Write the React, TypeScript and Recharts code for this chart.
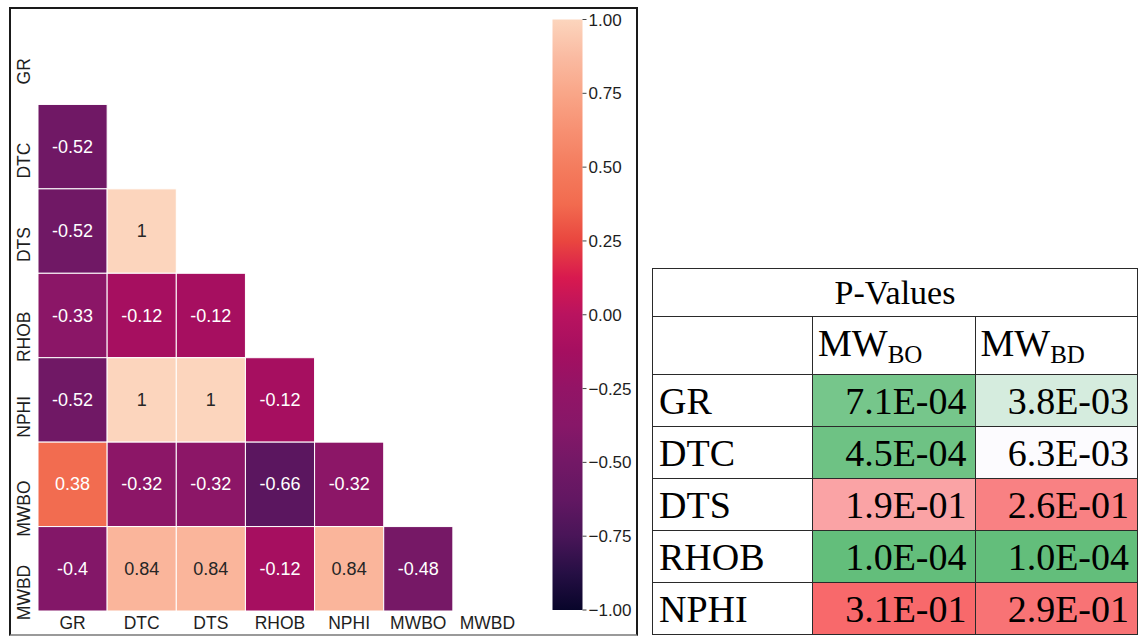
import React from 'react';
import { ScatterChart, Scatter, XAxis, YAxis, BarChart, Bar } from 'recharts';

// ---------------- Data ----------------
const variables = ['GR', 'DTC', 'DTS', 'RHOB', 'NPHI', 'MWBO', 'MWBD'];

// lower-triangle correlation rows (row i has values for columns 0..i-1)
const corrGR: number[] = [];
const corrDTC = [-0.52];
const corrDTS = [-0.52, 1];
const corrRHOB = [-0.33, -0.12, -0.12];
const corrNPHI = [-0.52, 1, 1, -0.12];
const corrMWBO = [0.38, -0.32, -0.32, -0.66, -0.32];
const corrMWBD = [-0.4, 0.84, 0.84, -0.12, 0.84, -0.48];

const colorbarTicks = [-1, -0.75, -0.5, -0.25, 0, 0.25, 0.5, 0.75, 1];

const pTitle = 'P-Values';
const pRowLabels = ['GR', 'DTC', 'DTS', 'RHOB', 'NPHI'];
const pMWBO = [7.1e-4, 4.5e-4, 1.9e-1, 1.0e-4, 3.1e-1];
const pMWBD = [3.8e-3, 6.3e-3, 2.6e-1, 1.0e-4, 2.9e-1];

// ---------------- Helpers ----------------
const corrRows = [corrGR, corrDTC, corrDTS, corrRHOB, corrNPHI, corrMWBO, corrMWBD];
const cells = corrRows.flatMap((row, r) => row.map((v, c) => ({ x: c, y: r, v })));

const SANS = '"Liberation Sans", Arial, sans-serif';
const SERIF = '"Liberation Serif", "Times New Roman", serif';

const cmapStops: [number, string][] = [
  [-1.0, '#08052a'],
  [-0.875, '#260f44'],
  [-0.75, '#491558'],
  [-0.625, '#621762'],
  [-0.5, '#731866'],
  [-0.375, '#871768'],
  [-0.25, '#931466'],
  [-0.125, '#a50f60'],
  [0.0, '#b9135f'],
  [0.125, '#d8194f'],
  [0.25, '#e9463f'],
  [0.375, '#f26b4f'],
  [0.5, '#f47c5e'],
  [0.625, '#f79072'],
  [0.75, '#f9a688'],
  [0.875, '#fabba2'],
  [1.0, '#fcd5bd'],
];

const hexToRgb = (h: string) => [
  parseInt(h.slice(1, 3), 16),
  parseInt(h.slice(3, 5), 16),
  parseInt(h.slice(5, 7), 16),
];
const rgbToHex = (c: number[]) =>
  '#' + c.map((v) => Math.round(Math.max(0, Math.min(255, v))).toString(16).padStart(2, '0')).join('');
const mix = (a: string, b: string, t: number) => {
  const A = hexToRgb(a);
  const B = hexToRgb(b);
  return rgbToHex(A.map((v, i) => v + (B[i] - v) * t));
};

const rocket = (v: number) => {
  for (let i = 0; i < cmapStops.length - 1; i++) {
    const [v0, c0] = cmapStops[i];
    const [v1, c1] = cmapStops[i + 1];
    if (v >= v0 && v <= v1) return mix(c0, c1, (v - v0) / (v1 - v0));
  }
  return v < 0 ? cmapStops[0][1] : cmapStops[cmapStops.length - 1][1];
};

const relLum = (hex: string) => {
  const c = hexToRgb(hex).map((v) => {
    const s = v / 255;
    return s <= 0.03928 ? s / 12.92 : Math.pow((s + 0.055) / 1.055, 2.4);
  });
  return 0.2126 * c[0] + 0.7152 * c[1] + 0.0722 * c[2];
};
const annotColor = (bg: string) => (relLum(bg) > 0.408 ? '#262626' : '#ffffff');

// Excel-like 3-colour scale (min green, 50th percentile white, max red)
const allP = [...pMWBO, ...pMWBD].slice().sort((a, b) => a - b);
const pMin = allP[0];
const pMax = allP[allP.length - 1];
const pMid = (() => {
  const pos = 0.5 * (allP.length - 1);
  const lo = Math.floor(pos);
  const hi = Math.ceil(pos);
  return allP[lo] + (allP[hi] - allP[lo]) * (pos - lo);
})();
const pColor = (v: number) => {
  if (v <= pMid) return mix('#fcfcff', '#63be7b', (pMid - v) / (pMid - pMin));
  return mix('#fcfcff', '#f8696b', (v - pMid) / (pMax - pMid));
};
const fmtP = (v: number) => {
  const [m, e] = v.toExponential(1).split('e');
  const n = parseInt(e, 10);
  return `${m}E${n < 0 ? '-' : '+'}${String(Math.abs(n)).padStart(2, '0')}`;
};

// ---------------- Heatmap layout ----------------
const HM_W = 640;
const HM_H = 637;
const HM_MARGIN = { top: 20, right: 118, bottom: 0, left: 0 };
const Y_AXIS_W = 38;
const X_AXIS_H = 26;
const plotW = HM_W - HM_MARGIN.left - HM_MARGIN.right - Y_AXIS_W;
const plotH = HM_H - HM_MARGIN.top - HM_MARGIN.bottom - X_AXIS_H;
const cellW = plotW / variables.length;
const cellH = plotH / variables.length;
const idxTicks = variables.map((_, i) => i);

const CellShape = (props: any) => {
  const { cx, cy, payload } = props;
  if (cx == null || cy == null || !payload) return null;
  const fill = rocket(payload.v);
  return (
    <g>
      <rect
        x={cx - cellW / 2}
        y={cy - cellH / 2}
        width={cellW}
        height={cellH}
        fill={fill}
        stroke="#ffffff"
        strokeWidth={1}
      />
      <text
        x={cx}
        y={cy}
        textAnchor="middle"
        dominantBaseline="central"
        fill={annotColor(fill)}
        fontSize={18}
        fontFamily={SANS}
      >
        {String(payload.v)}
      </text>
    </g>
  );
};

const YTick = (props: any) => {
  const { x, y, payload } = props;
  const ay = y - 4;
  return (
    <text
      x={x}
      y={ay}
      transform={`rotate(-90, ${x}, ${ay})`}
      textAnchor="end"
      dominantBaseline="central"
      fill="#1e1e1e"
      fontSize={17.5}
      fontFamily={SANS}
    >
      {variables[payload.value]}
    </text>
  );
};

const colorbarData = [{ name: 'cb', range: [-1, 1] }];
const fmtCb = (v: number) => (v < 0 ? '\u2212' : '') + Math.abs(v).toFixed(2);

const border = '1px solid #2a2a2a';
const tdBase: React.CSSProperties = {
  border,
  padding: 0,
  lineHeight: 1,
  verticalAlign: 'middle',
  whiteSpace: 'nowrap',
};

export default function App() {
  return (
    <div
      style={{
        position: 'absolute',
        left: 0,
        top: 0,
        width: 1145,
        height: 637,
        background: '#ffffff',
        overflow: 'hidden',
      }}
    >
      <svg width={0} height={0} style={{ position: 'absolute' }}>
        <defs>
          <linearGradient id="cbGrad" x1="0" y1="1" x2="0" y2="0">
            {cmapStops.map(([v, c]) => (
              <stop key={v} offset={(v + 1) / 2} stopColor={c} />
            ))}
          </linearGradient>
        </defs>
      </svg>

      {/* frame around the heatmap figure */}
      <div
        style={{
          position: 'absolute',
          left: 9,
          top: 7,
          width: 629,
          height: 629,
          border: '2px solid #1a1a1a',
          borderBottomColor: '#9a9a9a',
          boxSizing: 'border-box',
        }}
      />

      <div style={{ position: 'absolute', left: 0, top: 0 }}>
        <ScatterChart width={HM_W} height={HM_H} margin={HM_MARGIN}>
          <XAxis
            type="number"
            dataKey="x"
            domain={[-0.5, variables.length - 0.5]}
            ticks={idxTicks}
            interval={0}
            tickFormatter={(i: number) => variables[i]}
            axisLine={false}
            tickLine={false}
            tickSize={0}
            tickMargin={6}
            height={X_AXIS_H}
            tick={{ fill: '#1e1e1e', fontSize: 17.5, fontFamily: SANS }}
          />
          <YAxis
            type="number"
            dataKey="y"
            domain={[-0.5, variables.length - 0.5]}
            reversed
            ticks={idxTicks}
            interval={0}
            axisLine={false}
            tickLine={false}
            tickSize={0}
            tickMargin={14}
            width={Y_AXIS_W}
            tick={<YTick />}
          />
          <Scatter data={cells} shape={<CellShape />} isAnimationActive={false} />
        </ScatterChart>
      </div>

      <div style={{ position: 'absolute', left: 540, top: 0 }}>
        <BarChart
          width={100}
          height={637}
          data={colorbarData}
          margin={{ top: 19.5, right: 7.5, bottom: 27, left: 12.5 }}
          barCategoryGap={0}
        >
          <XAxis dataKey="name" hide />
          <YAxis
            orientation="right"
            type="number"
            domain={[-1, 1]}
            ticks={colorbarTicks}
            interval={0}
            width={50}
            axisLine={false}
            tickLine={{ stroke: '#444', strokeWidth: 1 }}
            tickSize={4}
            tickMargin={2}
            tickFormatter={fmtCb}
            tick={{ fill: '#1e1e1e', fontSize: 17, fontFamily: SANS }}
          />
          <Bar dataKey="range" fill="url(#cbGrad)" isAnimationActive={false} />
        </BarChart>
      </div>

      <table
        style={{
          position: 'absolute',
          left: 652,
          top: 268,
          borderCollapse: 'collapse',
          tableLayout: 'fixed',
          width: 485,
          fontFamily: SERIF,
          color: '#000',
        }}
      >
        <colgroup>
          <col style={{ width: 160 }} />
          <col style={{ width: 162.5 }} />
          <col style={{ width: 162.5 }} />
        </colgroup>
        <tbody>
          <tr style={{ height: 48 }}>
            <td colSpan={3} style={{ ...tdBase, textAlign: 'center', fontSize: 34 }}>
              {pTitle}
            </td>
          </tr>
          <tr style={{ height: 58 }}>
            <td style={{ ...tdBase }} />
            <td style={{ ...tdBase, fontSize: 38, paddingLeft: 5 }}>
              MW<sub style={{ fontSize: 25, verticalAlign: '-7px', lineHeight: 1 }}>BO</sub>
            </td>
            <td style={{ ...tdBase, fontSize: 38, paddingLeft: 5 }}>
              MW<sub style={{ fontSize: 25, verticalAlign: '-7px', lineHeight: 1 }}>BD</sub>
            </td>
          </tr>
          {pRowLabels.map((lab, i) => (
            <tr key={lab} style={{ height: 52 }}>
              <td style={{ ...tdBase, fontSize: 38, paddingLeft: 6 }}>{lab}</td>
              <td
                style={{
                  ...tdBase,
                  fontSize: 38,
                  textAlign: 'right',
                  paddingRight: 8,
                  background: pColor(pMWBO[i]),
                }}
              >
                {fmtP(pMWBO[i])}
              </td>
              <td
                style={{
                  ...tdBase,
                  fontSize: 38,
                  textAlign: 'right',
                  paddingRight: 8,
                  background: pColor(pMWBD[i]),
                }}
              >
                {fmtP(pMWBD[i])}
              </td>
            </tr>
          ))}
        </tbody>
      </table>
    </div>
  );
}
